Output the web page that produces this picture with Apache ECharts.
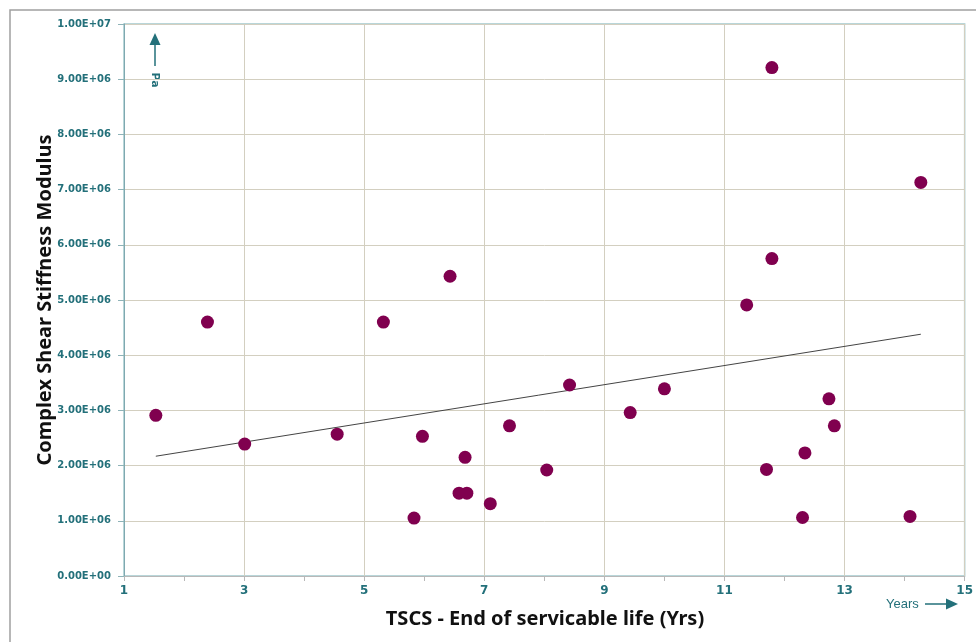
<!DOCTYPE html>
<html>
<head>
<meta charset="utf-8">
<script src="https://cdn.jsdelivr.net/npm/echarts@6/dist/echarts.min.js"></script>
<style>
  html, body { margin: 0; padding: 0; background: #fff; }
  #chart { width: 976px; height: 642px; }
</style>
</head>
<body>
<div id="chart"></div>
<script>
// years until end of servicable life
const years = [1.53, 2.39, 3.01, 4.55, 5.32, 6.43, 5.97, 5.83, 6.68, 6.58, 6.71, 7.10, 7.42, 8.04, 8.42,
  9.43, 10.00, 11.37, 11.79, 11.79, 11.70, 12.34, 12.30, 12.74, 12.83, 14.27, 14.09]
// complex shear stiffness modulus (Pa)
const modulus = [2.91e6, 4.60e6, 2.39e6, 2.57e6, 4.60e6, 5.43e6, 2.53e6, 1.05e6, 2.15e6, 1.50e6, 1.50e6, 1.31e6, 2.72e6, 1.92e6, 3.46e6,
  2.96e6, 3.39e6, 4.91e6, 9.21e6, 5.75e6, 1.93e6, 2.23e6, 1.06e6, 3.21e6, 2.72e6, 7.13e6, 1.08e6]
// trendline end points as drawn
const trendYears = [1.53, 14.27]
const trendModulus = [2.17e6, 4.38e6]

const teal = '#23707a'
const gridColor = '#d3cfc0'

const chart = echarts.init(document.getElementById('chart'))

const fmtExp = (v) => {
  if (v === 0) return '0.00E+00'
  const e = Math.floor(Math.log10(v) + 1e-9)
  const m = (v / Math.pow(10, e)).toFixed(2)
  return m + 'E+' + (e < 10 ? '0' + e : e)
}

chart.setOption({
  backgroundColor: '#fff',
  animation: false,
  grid: { left: 124, right: 10, top: 24, bottom: 66, show: true, borderColor: '#a3c9cd', borderWidth: 1.5 },
  xAxis: {
    type: 'value',
    min: 1,
    max: 15,
    interval: 2,
    axisLine: { show: true, onZero: false, lineStyle: { color: '#b8b8b8', width: 1 } },
    axisTick: { show: true, length: 5, lineStyle: { color: '#b8b8b8' } },
    minorTick: { show: true, splitNumber: 2, length: 5, lineStyle: { color: '#b8b8b8' } },
    axisLabel: { color: teal, fontFamily: 'DejaVu Sans', fontWeight: 'bold', fontSize: 12, margin: 9 },
    splitLine: { show: true, lineStyle: { color: gridColor, width: 1 } }
  },
  yAxis: {
    type: 'value',
    min: 0,
    max: 1e7,
    interval: 1e6,
    axisLine: { show: true, lineStyle: { color: '#7fa9b0', width: 1 } },
    axisTick: { show: true, length: 6, lineStyle: { color: '#8fb3b8' } },
    axisLabel: { color: teal, fontFamily: 'DejaVu Sans', fontWeight: 'bold', fontSize: 10, margin: 13, formatter: fmtExp },
    splitLine: { show: true, lineStyle: { color: gridColor, width: 1 } }
  },
  graphic: [
    { type: 'rect', shape: { x: 10, y: 10, width: 980, height: 650 }, style: { fill: 'none', stroke: '#a0a0a0', lineWidth: 1.5 }, silent: true },
    {
      type: 'text', x: 545, y: 619,
      style: { text: 'TSCS - End of servicable life (Yrs)', fontFamily: 'Noto Sans', fontWeight: 'bold', fontSize: 20, fill: '#111', align: 'center', verticalAlign: 'middle' }
    },
    {
      type: 'text', x: 45, y: 300, rotation: Math.PI / 2,
      style: { text: 'Complex Shear Stiffness Modulus', fontFamily: 'Noto Sans', fontWeight: 'bold', fontSize: 20, fill: '#111', align: 'center', verticalAlign: 'middle' }
    },
    // Pa arrow
    { type: 'line', shape: { x1: 155, y1: 66, x2: 155, y2: 42 }, style: { stroke: teal, lineWidth: 1.5 } },
    { type: 'polygon', shape: { points: [[155, 33], [149.5, 45], [160.5, 45]] }, style: { fill: teal } },
    {
      type: 'text', x: 155, y: 80, rotation: -Math.PI / 2,
      style: { text: 'Pa', fontFamily: 'DejaVu Sans', fontWeight: 'bold', fontSize: 11, fill: teal, align: 'center', verticalAlign: 'middle' }
    },
    // Years arrow
    {
      type: 'text', x: 886, y: 604,
      style: { text: 'Years', fontFamily: 'Liberation Sans', fontSize: 13, fill: teal, verticalAlign: 'middle' }
    },
    { type: 'line', shape: { x1: 925, y1: 604, x2: 948, y2: 604 }, style: { stroke: teal, lineWidth: 1.5 } },
    { type: 'polygon', shape: { points: [[958, 604], [946, 598.5], [946, 609.5]] }, style: { fill: teal } }
  ],
  series: [
    {
      type: 'scatter',
      data: years.map((x, i) => [x, modulus[i]]),
      symbol: 'circle',
      symbolSize: 13,
      itemStyle: { color: '#80004f', opacity: 1 },
      z: 3
    },
    {
      type: 'line',
      data: trendYears.map((x, i) => [x, trendModulus[i]]),
      symbol: 'none',
      lineStyle: { color: '#444', width: 1 },
      z: 2
    }
  ]
})
</script>
</body>
</html>
